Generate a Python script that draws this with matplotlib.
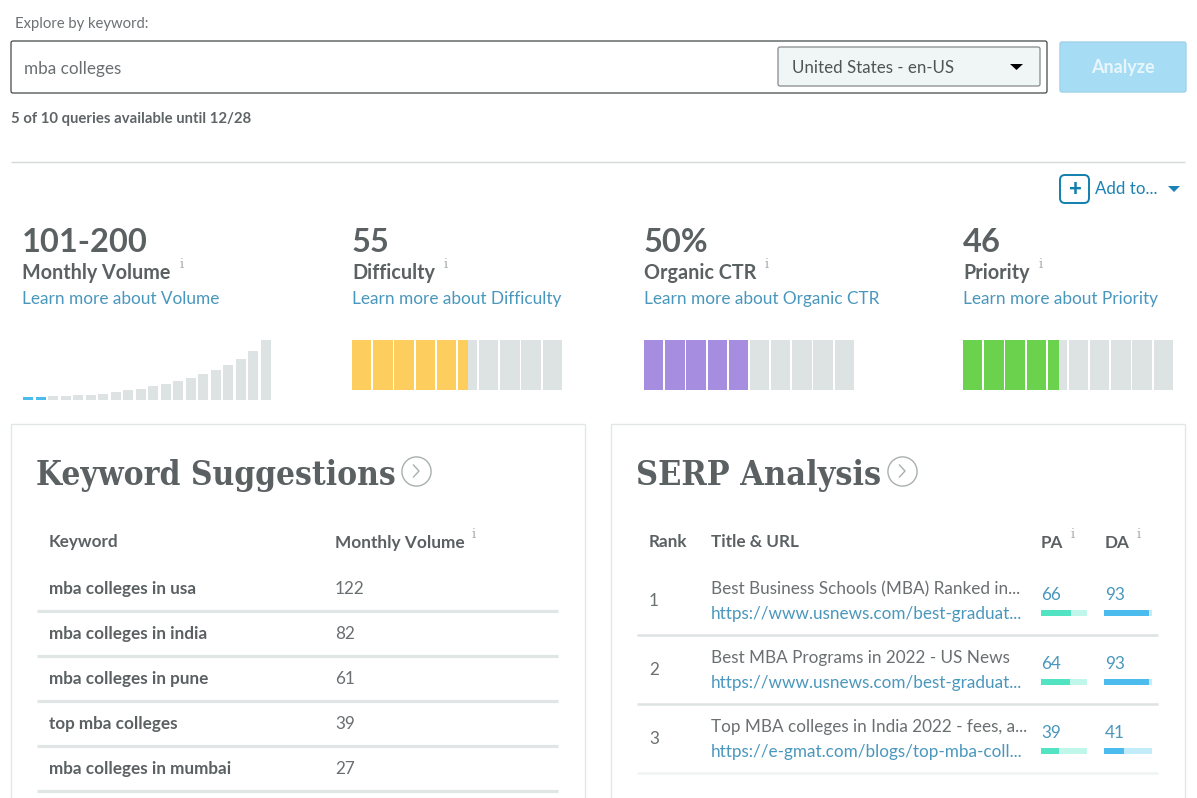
import matplotlib
matplotlib.use("Agg")
import matplotlib.pyplot as plt
from matplotlib.patches import FancyBboxPatch, Polygon

W, H = 1197, 798
plt.rcParams['font.family'] = ['Lato', 'DejaVu Sans']

# values
metric_values = ["101-200", "55", "50%", "46"]
metric_names = ["Monthly Volume", "Difficulty", "Organic CTR", "Priority"]
metric_links = ["Learn more about Volume", "Learn more about Difficulty",
                "Learn more about Organic CTR", "Learn more about Priority"]
volume_bars = [3, 3, 4, 4, 5, 5, 6.5, 8, 10, 11.5, 14, 16.5, 19, 22.5, 26.5, 30, 35, 41.5, 49, 60]
volume_active = 2
difficulty = 55
organic_ctr = 50
priority = 46

kw_names = ["mba colleges in usa", "mba colleges in india", "mba colleges in pune",
            "top mba colleges", "mba colleges in mumbai"]
kw_volume = [122, 82, 61, 39, 27]

serp_rank = [1, 2, 3]
serp_title = ["Best Business Schools (MBA) Ranked in...", "Best MBA Programs in 2022 - US News",
              "Top MBA colleges in India 2022 - fees, a..."]
serp_url = ["https://www.usnews.com/best-graduat...", "https://www.usnews.com/best-graduat...",
            "https://e-gmat.com/blogs/top-mba-coll..."]
serp_pa = [66, 64, 39]
serp_da = [93, 93, 41]

DARK = "#5b6163"
BLUE = "#4a97bd"
GREY = "#dce3e2"

fig = plt.figure(figsize=(W / 100, H / 100), dpi=100)
ax = fig.add_axes([0, 0, 1, 1])
ax.set_xlim(0, W)
ax.set_ylim(H, 0)
ax.axis("off")


def txt(x, y, s, size=12.3, color=DARK, weight="normal", ha="left", **kw):
    # va center sits a little high for Lato
    ax.text(x, y + 3, s, fontsize=size, color=color, fontweight=weight, ha=ha, va="center", **kw)


def box(x, y, w, h, fc="white", ec="#5f6466", lw=1, r=2, z=1):
    ax.add_patch(FancyBboxPatch((x + r, y + r), w - 2 * r, h - 2 * r, boxstyle=f"round,pad={r}",
                                fc=fc, ec=ec, lw=lw, zorder=z))


def sub_axes(x, y, w, h):
    a = fig.add_axes([x / W, 1 - (y + h) / H, w / W, h / H])
    a.axis("off")
    a.patch.set_alpha(0)
    return a


def info(x, y):
    ax.text(x, y, "i", fontsize=9.5, color="#a9afb0", family="DejaVu Serif", ha="center", va="center")


def hline(x0, x1, y, color, lw):
    ax.plot([x0, x1], [y, y], color=color, lw=lw, solid_capstyle="butt")


# search row
txt(15, 21, "Explore by keyword:", 10.7, "#6c7173")
box(11, 41, 1036, 52, ec="#44484a", lw=0.9)
txt(24, 66, "mba colleges", 12.3, "#6a6f71")
box(778, 47, 262, 39, fc="#eff6f5", ec="#85898a", lw=0.9, z=2)
txt(792, 65, "United States - en-US", 12.2, "#4f5456", zorder=3)
ax.add_patch(Polygon([[1010, 64], [1023, 64], [1016.5, 70]], fc="black", zorder=3))
box(1060, 42, 126, 50, fc="#a6ddf5", ec="#9fd3ea", lw=1)
txt(1123, 65, "Analyze", 13, "white", ha="center", weight="bold", alpha=0.75)
txt(11, 116, "5 of 10 queries available until 12/28", 10.7, "#5f6466", weight="bold")
hline(11, 1185, 161.5, "#d6d8d8", 1)

# add to
box(1060, 175, 29, 28, ec="#0f7fae", lw=1.4, r=5)
txt(1075, 186, "+", 16, "#0f7fae", weight="black", ha="center")
txt(1095, 186, "Add to...", 12.2, "#1b82b5")
ax.add_patch(Polygon([[1168, 186], [1180, 186], [1174, 192]], fc="#1b82b5"))

# metric headers
metric_x = [22, 352, 644, 963]
info_x = [182, 446, 767, 1041]
for x, ix, val, name, link in zip(metric_x, info_x, metric_values, metric_names, metric_links):
    txt(x, 239, val, 23.5, DARK, weight="bold")
    txt(x, 270, name, 14.2, DARK, weight="bold")
    info(ix, 265)
    txt(x, 296, link, 12.4, BLUE)

# volume chart
a = sub_axes(22, 340, 250, 60)
idx = list(range(len(volume_bars)))
vol_colors = ["#4cbcef" if i < volume_active else GREY for i in idx]
a.bar(idx, volume_bars, width=0.82, color=vol_colors)
a.set_xlim(-0.5, len(volume_bars) - 0.5)
a.set_ylim(0, 60)
a.axis("off")

# score blocks, ten cells filled up to the score
for x, score, col in [(352, difficulty, "#fdce5e"), (644, organic_ctr, "#a78de0"), (963, priority, "#6bd24e")]:
    a = sub_axes(x, 340, 210, 50)
    cells = list(range(10))
    a.bar(cells, [1] * 10, width=0.92, color=GREY)
    a.bar(cells, [1] * 10, width=0.92, color=[col if (c + 1) * 10 <= score else "none" for c in cells])
    frac = score % 10 / 10
    if frac:
        a.barh(0.5, frac * 0.92, height=1, left=score // 10 - 0.46, color=col)
    a.set_xlim(-0.46, 9.46)
    a.set_ylim(0, 1)
    a.axis("off")

# panels
for x, w in [(10.5, 574.5), (610.5, 574.5)]:
    ax.plot([x, x, x + w, x + w], [H + 5, 424, 424, H + 5], color="#e2e6e6", lw=1)


def circle_arrow(x, y):
    ax.plot([x], [y], marker="o", ms=21, mfc="white", mec="#a9afb0", mew=1, zorder=5)
    ax.plot([x - 2.5, x + 3, x - 2.5], [y - 6, y, y + 6], color="#a9afb0", lw=1, zorder=6)


# keyword suggestions
ax.text(36, 475, "Keyword Suggestions", fontsize=24, color=DARK, fontweight="bold",
        family="DejaVu Serif", stretch="condensed", va="center", ha="left")
circle_arrow(416, 471)
txt(49, 539, "Keyword", 12.3, DARK, weight="bold")
txt(335, 540, "Monthly Volume", 12.4, DARK, weight="bold")
info(474, 534)
kw_y = [586, 631, 676, 721, 766]
for y, name, vol in zip(kw_y, kw_names, kw_volume):
    txt(49, y, name, 12.3, DARK, weight="bold")
    txt(335, y, str(vol), 12.3, "#6a6f71")
    hline(37, 558, y + 25, "#dfe6e5", 2.3)

# serp analysis
ax.text(636, 475, "SERP Analysis", fontsize=24.5, color=DARK, fontweight="bold",
        family="DejaVu Serif", stretch="condensed", va="center", ha="left")
circle_arrow(902, 471)
txt(649, 539, "Rank", 12.3, DARK, weight="bold")
txt(711, 539, "Title & URL", 12.3, DARK, weight="bold")
txt(1041, 540, "PA", 12.3, DARK, weight="bold")
info(1073, 534)
txt(1105, 540, "DA", 12.3, DARK, weight="bold")
info(1139, 534)
serp_y = [600, 669, 738]
line_col = ["#dde3e2", "#dde3e2", "#eef5f4"]
for y, r, t, u, pa, da, lc in zip(serp_y, serp_rank, serp_title, serp_url, serp_pa, serp_da, line_col):
    txt(649, y - 2, str(r), 12.3, "#6a6f71")
    txt(711, y - 14, t, 12.3, "#6a6f71")
    txt(711, y + 11, u, 12.3, BLUE)
    txt(1041, y - 8, str(pa), 12.3, BLUE)
    txt(1105, y - 8, str(da), 12.3, BLUE)
    hline(637, 1158, y + 34.5, lc, 1.8)
    for x, w, v, fg, bg in [(1041, 46, pa, "#52e3c2", "#c0f7ea"), (1104, 48, da, "#4cbcef", "#c3ecfb")]:
        a = sub_axes(x, y + 10, w, 6)
        a.barh([0], [100], height=1, color=bg)
        a.barh([0], [v], height=1, color=fg)
        a.set_xlim(0, 100)
        a.set_ylim(-0.5, 0.5)
        a.axis("off")

fig.savefig("out.png", dpi=100)
